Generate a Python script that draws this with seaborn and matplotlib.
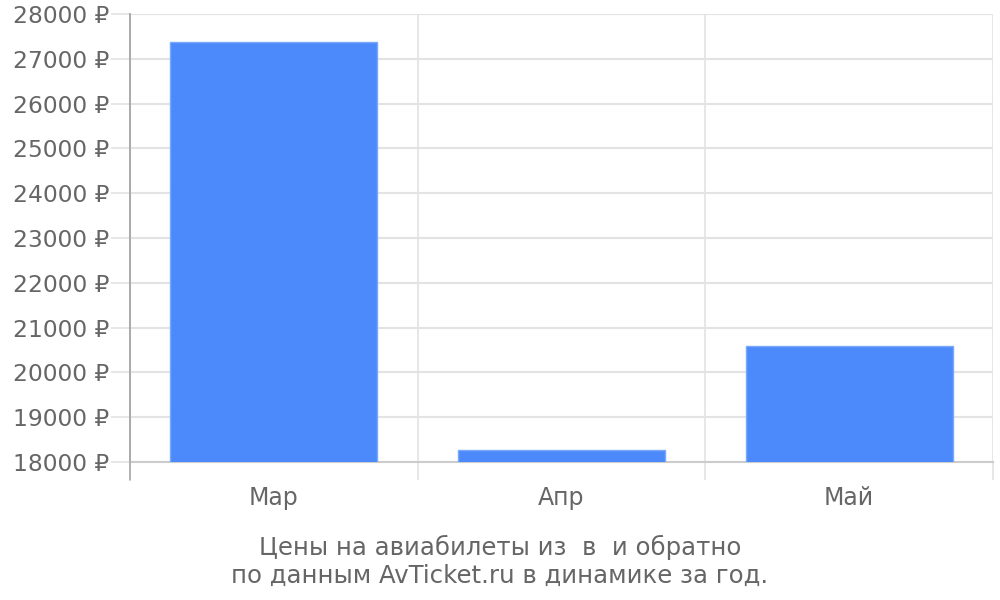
import matplotlib
matplotlib.use("Agg")
import matplotlib.pyplot as plt
import seaborn as sns
import pandas as pd

months = ["Мар", "Апр", "Май"]
prices = [27375, 18270, 20590]
y_ticks = list(range(18000, 28001, 1000))
caption = "Цены на авиабилеты из  в  и обратно\nпо данным AvTicket.ru в динамике за год."

sns.set_style("white")
plt.rcParams["font.family"] = ["DejaVu Sans"]

grey_text = "#666666"
grid_col = "#e3e3e3"

df = pd.DataFrame({"month": months, "price": prices})

fig = plt.figure(figsize=(10, 6), dpi=100)
ax = fig.add_axes([0.13, 0.23, 0.863, 0.7467])

sns.barplot(data=df, x="month", y="price", color="#4c89fb", width=0.72,
            saturation=1, edgecolor="#7aa8fc", linewidth=1, ax=ax, zorder=3)

ax.set_ylim(18000, 28000)
ax.set_xlim(-0.5, 2.5)
ax.set_yticks(y_ticks)
ax.set_yticklabels([f"{v} ₽" for v in y_ticks], color=grey_text, fontsize=16.8)
ax.set_xticks(range(len(months)))
ax.set_xticklabels(months, color=grey_text, fontsize=17)
ax.set_xticks([-0.5, 0.5, 1.5, 2.5], minor=True)
ax.set_xlabel("")
ax.set_ylabel("")

ax.grid(axis="y", color=grid_col, linewidth=1.5, zorder=0)
ax.grid(axis="x", which="minor", color=grid_col, linewidth=1.2, zorder=0)
ax.tick_params(axis="y", left=True, length=14, width=1.2, color=grid_col, pad=1)
ax.tick_params(axis="x", which="major", bottom=True, length=0, pad=17)
ax.tick_params(axis="x", which="minor", bottom=True, length=13, width=1.2, color=grid_col)

for side in ["top", "right"]:
    ax.spines[side].set_visible(False)
ax.spines["left"].set_color("#aaaaaa")
ax.spines["left"].set_linewidth(1.2)
ax.spines["left"].set_bounds(18000, 28000)
ax.spines["bottom"].set_color("#cccccc")
ax.spines["bottom"].set_linewidth(1.5)
ax.axvline(-0.5, ymin=-0.04, ymax=1, color="#aaaaaa", linewidth=1.2, clip_on=False, zorder=4)

fig.text(0.5, 0.065, caption, ha="center", va="center", color=grey_text,
         fontsize=17.6, linespacing=1.2)

fig.savefig("out.png", dpi=100)
